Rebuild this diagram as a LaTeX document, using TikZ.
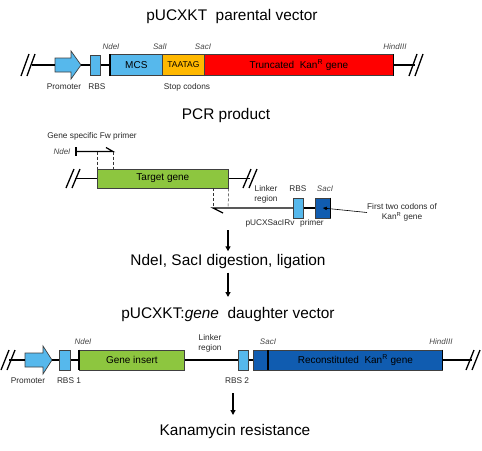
\documentclass[tikz,border=0pt]{standalone}
\usepackage{fontspec}
\setmainfont{Liberation Sans}
\usetikzlibrary{arrows.meta}
\definecolor{lblue}{RGB}{86,184,236}
\definecolor{gold}{RGB}{255,184,0}
\definecolor{kred}{RGB}{255,0,0}
\definecolor{lgreen}{RGB}{141,198,63}
\definecolor{dblue}{RGB}{16,92,176}
\definecolor{lbl}{RGB}{40,40,40}
\definecolor{site}{RGB}{70,70,70}
\begin{document}
\begin{tikzpicture}[x=1pt,y=-1pt,
  box/.style={draw=black!75, line width=0.7pt, inner sep=0pt, anchor=west},
  bb/.style={font=\fontsize{15.4}{17}\selectfont},
  sm/.style={font=\fontsize{8.3}{9.5}\selectfont, text=lbl, inner sep=0pt, align=center},
  st/.style={font=\fontsize{8}{9}\selectfont\itshape, text=site, inner sep=0pt},
  bx/.style={font=\fontsize{10}{11}\selectfont, inner sep=0pt},
  dna/.style={line width=1.3pt, black},
  brk/.style={line width=1.3pt, black},
  rs/.style={line width=1.4pt, black},
  dsh/.style={densely dashed, line width=0.5pt, black!80},
  darr/.style={line width=1.6pt, -{Triangle[length=5pt,width=5pt]}},
]
\useasboundingbox (0,0) rectangle (482,450);

% ---------- Row 1: parental vector ----------
\node[bb] (t1) at (232,17) {pUCXKT\ \ parental vector};
\coordinate (l1a) at (32,65);
\draw[brk] (21,76) -- (29,54) (27,76) -- (35,54);
\draw[box, fill=lblue] (55,58) -- (71,58) -- (71,51) -- (81,65) -- (71,79) -- (71,72) -- (55,72) -- cycle;
\coordinate (p1w) at (55,65);
\coordinate (p1e) at (81,65);
\node[box, fill=lblue, minimum width=10pt, minimum height=20pt] (rbs1) at (90,65) {};
\node[box, fill=lblue, minimum width=52pt, minimum height=21pt, bx] (mcs) at (110,65) {MCS};
\node[box, fill=gold, minimum width=42pt, minimum height=21pt, font=\fontsize{8.5}{9}\selectfont] (stop) at (162,65) {TAATAG};
\node[box, fill=kred, minimum width=189pt, minimum height=21pt, bx] (kan1) at (204,65) {Truncated\ \ Kan\textsuperscript{R} gene};
\coordinate (l1b) at (415,65);
\draw[dna] (l1a) -- (p1w);
\draw[dna] (p1e) -- (rbs1.west);
\draw[dna] (rbs1.east) -- (mcs.west);
\draw[dna] (kan1.east) -- (l1b);
\draw[brk] (409,76) -- (417,54) (415,76) -- (423,54);
\draw[rs] (mcs.north west) -- (mcs.south west);
\draw[rs] (kan1.north east) -- (kan1.south east);
\node[st] (nde1) at (111,47) {NdeI};
\node[st] (sal1) at (160,47) {SalI};
\node[st] (sac1) at (203,47) {SacI};
\node[st] (hin1) at (395,47) {HindIII};
\node[sm] (prl1) at (64,87) {Promoter};
\node[sm] (rbl1) at (97,87) {RBS};
\node[sm] (stl) at (187,87) {Stop codons};

% ---------- Row 2: PCR product ----------
\node[bb] (t2) at (226,116) {PCR product};
\node[sm] (fwl) at (92,136) {Gene specific Fw primer};
\node[st] (nde2) at (62,152) {NdeI};
\coordinate (fw0) at (76,151.5);
\coordinate (fw1) at (113,151.5);
\draw[line width=1.2pt] (76,147) -- (76,156);
\draw[line width=1.2pt] (fw0) -- (fw1) -- (106,147.5);
\node[box, fill=lgreen, minimum width=131pt, minimum height=19pt, bx] (tg) at (97,178.5) {Target gene};
\draw[dsh] (97,151.5) -- (tg.north west);
\draw[dsh] (fw1) -- (113,169);
\coordinate (l2a) at (75,178.5);
\coordinate (l2b) at (250,178.5);
\draw[dna] (l2a) -- (tg.west);
\draw[dna] (tg.east) -- (l2b);
\draw[brk] (66,188) -- (74,169) (72,188) -- (80,169);
\draw[brk] (243,188) -- (251,169) (249,188) -- (257,169);
\coordinate (rv0) at (213,208);
\node[box, fill=lblue, minimum width=10pt, minimum height=20pt] (rbs2) at (293,208) {};
\node[box, fill=dblue, minimum width=15pt, minimum height=20pt] (sacb) at (315,208) {};
\draw[line width=1.2pt] (223,213) -- (rv0) -- (rbs2.west);
\draw[line width=1.2pt] (rbs2.east) -- (sacb.west);
\draw[rs] (sacb.north east) -- (sacb.south east);
\draw[dsh] (tg.south east) -- (228,208);
\draw[dsh] (213,188) -- (rv0);
\node[sm] (lnk2) at (266,194.5) {Linker\\region};
\node[sm] (rbl2) at (298,189) {RBS};
\node[st] (sac2) at (325,189) {SacI};
\node[sm] (rvl) at (270,223) {pUCXSacIRv};
\node[sm] (rvl2) at (312,223) {primer};
\node[sm] (ftc) at (402,212.5) {First two codons of\\Kan\textsuperscript{R} gene};
\draw[line width=0.6pt, -{Triangle[length=4pt,width=3.5pt]}] (ftc.west) -- (sacb.center);

% ---------- Middle steps ----------
\coordinate (a1) at (228,230);
\node[bb] (dig) at (228,262) {NdeI, SacI digestion, ligation};
\draw[darr] (a1) -- (dig.north);
\coordinate (a2) at (228,297);
\draw[darr] (dig.south) -- (a2);

% ---------- Row 3: daughter vector ----------
\node[bb] (t3) at (228,315) {pUCXKT:\textit{gene}\ \ daughter vector};
\coordinate (l3a) at (9,360);
\draw[brk] (1,370) -- (9,350) (7,370) -- (15,350);
\draw[box, fill=lblue] (25,353) -- (43,353) -- (43,346) -- (52,360) -- (43,374) -- (43,367) -- (25,367) -- cycle;
\coordinate (p3w) at (25,360);
\coordinate (p3e) at (52,360);
\node[box, fill=lblue, minimum width=11pt, minimum height=20pt] (r31) at (59,360) {};
\node[box, fill=lgreen, minimum width=105pt, minimum height=20pt, bx] (gi) at (79,360) {Gene insert};
\node[box, fill=lblue, minimum width=10pt, minimum height=20pt] (r32) at (238,360) {};
\node[box, fill=dblue, minimum width=189pt, minimum height=20pt, bx] (kan3) at (253,360) {\hspace*{15pt}Reconstituted\ \ Kan\textsuperscript{R} gene};
\coordinate (l3b) at (472,360);
\draw[dna] (l3a) -- (p3w);
\draw[dna] (p3e) -- (r31.west);
\draw[dna] (r31.east) -- (gi.west);
\draw[dna] (gi.east) -- (r32.west);
\draw[dna] (r32.east) -- (kan3.west);
\draw[dna] (kan3.east) -- (l3b);
\draw[brk] (466,370) -- (474,350) (472,370) -- (480,350);
\draw[rs] (gi.north west) -- (gi.south west);
\draw[rs] (268,350) -- (268,370);
\draw[rs] (kan3.north east) -- (kan3.south east);
\node[st] (nde3) at (83,342) {NdeI};
\node[sm] (lnk3) at (210,343.5) {Linker\\region};
\node[st] (sac3) at (268,342) {SacI};
\node[st] (hin3) at (441,342) {HindIII};
\node[sm] (prl3) at (28,381) {Promoter};
\node[sm] (rbl31) at (69,381) {RBS 1};
\node[sm] (rbl32) at (237,381) {RBS 2};
\node[bb] (kr) at (235,432) {Kanamycin resistance};
\coordinate (a3) at (233,393);
\draw[darr] (a3) -- (233,415);
\end{tikzpicture}
\end{document}
